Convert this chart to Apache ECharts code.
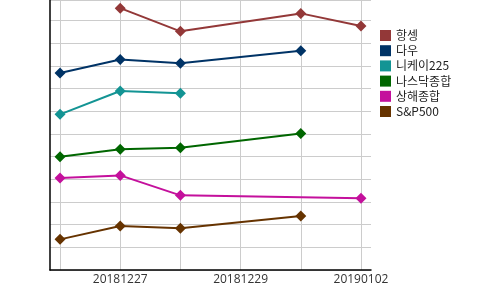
<!DOCTYPE html>
<html><head><meta charset="utf-8">
<script src="https://cdn.jsdelivr.net/npm/echarts@6/dist/echarts.min.js"></script>
<style>html,body{margin:0;padding:0;background:#fff}#c{width:500px;height:290px}</style>
</head><body><div id="c"></div>
<script>
var categories = ['20181226','20181227','20181228','20181229','20181231','20190102'];
var shownLabels = [1, 3, 5];
var seriesNames = ['항셍','다우','니케이225','나스닥종합','상해종합','S&P500'];
var hangseng = [null, 10.67, 9.65, null, 10.44, 9.88];
var dow      = [7.81, 8.41, 8.24, null, 8.79, null];
var nikkei   = [5.99, 7.02, 6.92, null, null, null];
var nasdaq   = [4.12, 4.45, 4.52, null, 5.15, null];
var shanghai = [3.19, 3.30, 2.42, null, null, 2.29];
var sp500    = [0.48, 1.07, 0.97, null, 1.51, null];
var colors = ['#933838','#003366','#139494','#006600','#c4109c','#663300'];

var allData = [hangseng, dow, nikkei, nasdaq, shanghai, sp500];
function pairs(arr){
  var out = [];
  arr.forEach(function(v,i){ if(v!==null) out.push([i,v]); });
  return out;
}
var chart = echarts.init(document.getElementById('c'), null, {renderer:'canvas'});
chart.setOption({
  animation:false,
  color: colors,
  grid:{left:50, right:129, top:0, bottom:20, containLabel:false},
  legend:{
    orient:'vertical', left:380, top:29.5, padding:0, itemWidth:11, itemHeight:11, itemGap:3.2,
    icon:'rect', data: seriesNames,
    textStyle:{fontFamily:'Noto Sans CJK KR', fontSize:12, color:'#222'}
  },
  xAxis:{
    type:'value', min:-1/6, max:31/6,
    axisLine:{show:true, onZero:false, lineStyle:{color:'#000', width:1.5}},
    axisTick:{show:false, customValues:[0,1,2,3,4,5]},
    splitLine:{show:true, lineStyle:{color:'#cccccc', width:1}},
    axisLabel:{customValues: shownLabels, formatter:function(v){return categories[Math.round(v)];},
      fontFamily:'Open Sans', fontSize:12, color:'#333', margin:4}
  },
  yAxis:{
    type:'value', min:-0.87, max:11.03, interval:1,
    axisLine:{show:true, onZero:false, lineStyle:{color:'#000', width:1.5}},
    axisTick:{show:false},
    axisLabel:{show:false},
    splitLine:{show:true, lineStyle:{color:'#cccccc', width:1}}
  },
  series: seriesNames.map(function(n,i){
    return {name:n, type:'line', data:pairs(allData[i]), symbol:'diamond', symbolSize:11,
      lineStyle:{width:2}, itemStyle:{color:colors[i]}, connectNulls:true};
  })
});
</script></body></html>
